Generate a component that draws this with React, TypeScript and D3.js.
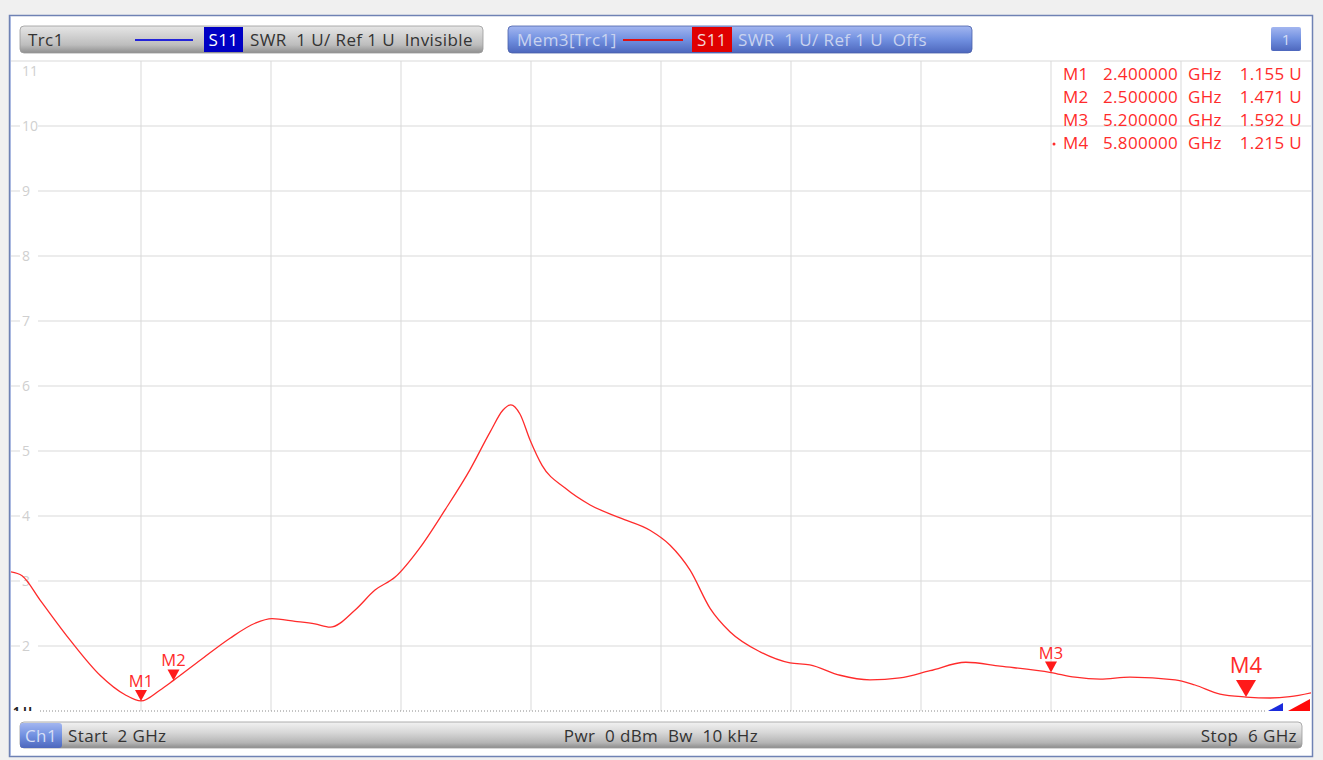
import React from "react";
import * as d3 from "d3";

const freqGHz = [2.0, 2.034, 2.089, 2.182, 2.274, 2.351, 2.4, 2.458, 2.5, 2.582, 2.674, 2.751, 2.803, 2.874, 2.935, 2.982, 3.058, 3.12, 3.182, 3.258, 3.335, 3.412, 3.474, 3.514, 3.538, 3.566, 3.597, 3.634, 3.705, 3.782, 3.874, 3.966, 4.028, 4.089, 4.151, 4.212, 4.305, 4.397, 4.458, 4.551, 4.643, 4.735, 4.828, 4.938, 5.043, 5.2, 5.274, 5.351, 5.443, 5.582, 5.643, 5.72, 5.8, 5.874, 5.935, 6.0];
const swrValues = [3.14, 3.08, 2.71, 2.09, 1.55, 1.25, 1.155, 1.32, 1.471, 1.78, 2.12, 2.35, 2.42, 2.38, 2.34, 2.29, 2.55, 2.86, 3.06, 3.51, 4.09, 4.71, 5.29, 5.63, 5.71, 5.57, 5.17, 4.78, 4.43, 4.17, 3.97, 3.78, 3.55, 3.17, 2.58, 2.22, 1.91, 1.74, 1.71, 1.55, 1.48, 1.51, 1.62, 1.75, 1.69, 1.592, 1.52, 1.49, 1.52, 1.48, 1.40, 1.26, 1.215, 1.20, 1.22, 1.28];

const markerNames = ["M1", "M2", "M3", "M4"];
const markerFreqs = [2.4, 2.5, 5.2, 5.8];
const markerValues = [1.155, 1.471, 1.592, 1.215];
const markerFreqLabels = ["2.400000", "2.500000", "5.200000", "5.800000"];
const markerValueLabels = ["1.155 U", "1.471 U", "1.592 U", "1.215 U"];

const yTicks = [1, 2, 3, 4, 5, 6, 7, 8, 9, 10, 11];
const xTicks = [2, 2.4, 2.8, 3.2, 3.6, 4.0, 4.4, 4.8, 5.2, 5.6, 6.0];

const FONT = "'Open Sans', 'Noto Sans', sans-serif";
const RED = "#ff2b2b";

export default function App() {
  const x = d3.scaleLinear().domain([2, 6]).range([11, 1311]);
  const y = d3.scaleLinear().domain([1, 11]).range([711, 61]);
  const pts: [number, number][] = freqGHz.map((f, i) => [f, swrValues[i]]);
  const line = d3
    .line<[number, number]>()
    .x((d) => x(d[0]))
    .y((d) => y(d[1]))
    .curve(d3.curveMonotoneX);

  const hdr = { fontSize: 17, letterSpacing: 0.4 };

  return (
    <svg
      width={1323}
      height={760}
      style={{ position: "absolute", left: 0, top: 0, background: "#f0f0f0" }}
      fontFamily={FONT}
    >
      <defs>
        <linearGradient id="gray" x1="0" y1="0" x2="0" y2="1">
          <stop offset="0" stopColor="#e6e6e6" />
          <stop offset="0.35" stopColor="#d2d2d2" />
          <stop offset="0.7" stopColor="#bdbdbd" />
          <stop offset="1" stopColor="#8e8e8e" />
        </linearGradient>
        <linearGradient id="blue" x1="0" y1="0" x2="0" y2="1">
          <stop offset="0" stopColor="#a3b6f0" />
          <stop offset="0.5" stopColor="#7190e0" />
          <stop offset="1" stopColor="#4d67bd" />
        </linearGradient>
        <linearGradient id="bottomGray" x1="0" y1="0" x2="0" y2="1">
          <stop offset="0" stopColor="#f2f2f2" />
          <stop offset="0.4" stopColor="#d8d8d8" />
          <stop offset="0.8" stopColor="#b4b4b4" />
          <stop offset="1" stopColor="#8c8c8c" />
        </linearGradient>
        <clipPath id="plotClip">
          <rect x={11} y={61} width={1300} height={651} />
        </clipPath>
        <clipPath id="oneU">
          <rect x={11} y={690} width={40} height={21} />
        </clipPath>
      </defs>

      {/* frame */}
      <rect x={9.5} y={15.5} width={1303} height={741} fill="#ffffff" stroke="#6f82b4" strokeWidth={1.5} />
      <line x1={10.5} y1={16} x2={10.5} y2={756} stroke="#a9b8e0" strokeWidth={1} />

      {/* grid */}
      {yTicks.slice(1).map((t) => (
        <line key={"h" + t} x1={11} x2={1311} y1={y(t)} y2={y(t)} stroke="#d9d9d9" strokeWidth={1} />
      ))}
      {xTicks.slice(1, -1).map((t) => (
        <line key={"v" + t} x1={x(t)} x2={x(t)} y1={61} y2={711} stroke="#d9d9d9" strokeWidth={1} />
      ))}
      <line x1={40} x2={1266} y1={711} y2={711} stroke="#8a8a8a" strokeWidth={1} strokeDasharray="1,2" />

      {/* y labels */}
      {yTicks.slice(1, -1).map((t) => (
        <g key={"yl" + t}>
          <rect x={20} y={y(t) - 8} width={18} height={16} fill="#ffffff" />
          <text x={22} y={y(t) + 5} fontSize={14} fill="#cfcfcf">
            {t}
          </text>
        </g>
      ))}
      <text x={22} y={y(11) + 15} fontSize={14} fill="#cfcfcf">
        11
      </text>
      <g clipPath="url(#oneU)">
        <text x={13} y={716} fontSize={12} fill="#222" fontWeight="bold">
          1 U
        </text>
      </g>

      {/* trace */}
      <g clipPath="url(#plotClip)">
        <path d={line(pts) || ""} fill="none" stroke={RED} strokeWidth={1.3} />
      </g>

      {/* markers */}
      {markerNames.map((m, i) => {
        const cx = x(markerFreqs[i]);
        const cy = y(markerValues[i]);
        const big = i === 3;
        const w = big ? 10 : 6;
        const h = big ? 17 : 11;
        return (
          <g key={m}>
            <path d={`M${cx - w},${cy - h} L${cx + w},${cy - h} L${cx},${cy} Z`} fill="#ff1a1a" />
            <text
              x={cx}
              y={cy - h - (big ? 7 : 3)}
              textAnchor="middle"
              fontSize={big ? 22 : 16.5}
              fill={RED}
            >
              {m}
            </text>
          </g>
        );
      })}

      {/* reference indicators */}
      <path d="M1268,711 L1283,711 L1283,703 Z" fill="#1a2bdc" />
      <path d="M1288,711 L1310,711 L1310,699 Z" fill="#ff0a0a" />

      {/* readout */}
      {markerNames.map((m, i) => {
        const by = 80 + i * 23;
        return (
          <g key={"r" + m} fontSize={17} letterSpacing={0.3} fill={RED}>
            {i === 3 && <circle cx={1054} cy={by - 5} r={1.5} fill={RED} />}
            <text x={1063} y={by}>{m}</text>
            <text x={1178} y={by} textAnchor="end">{markerFreqLabels[i]}</text>
            <text x={1188} y={by}>GHz</text>
            <text x={1302} y={by} textAnchor="end">{markerValueLabels[i]}</text>
          </g>
        );
      })}

      {/* header */}
      <rect x={20} y={26} width={463} height={27} rx={4} fill="url(#gray)" stroke="#9a9a9a" strokeWidth={0.8} />
      <text x={28} y={46} {...hdr} fill="#333">Trc1</text>
      <line x1={135} x2={193} y1={40} y2={40} stroke="#2323d8" strokeWidth={2} />
      <rect x={204} y={27} width={39} height={25} fill="#0000c4" />
      <text x={223.5} y={46} {...hdr} fill="#ffffff" textAnchor="middle">S11</text>
      <text x={250} y={46} {...hdr} fill="#333" xmlSpace="preserve">SWR  1 U/ Ref 1 U  Invisible</text>

      <rect x={508} y={26} width={464} height={27} rx={4} fill="url(#blue)" stroke="#4a5fa8" strokeWidth={0.8} />
      <text x={517} y={46} {...hdr} fill="#c9d3ef">Mem3[Trc1]</text>
      <line x1={623} x2={683} y1={40} y2={40} stroke="#e01010" strokeWidth={2} />
      <rect x={692} y={27} width={40} height={25} fill="#e00000" />
      <text x={712} y={46} {...hdr} fill="#f3d6d6" textAnchor="middle">S11</text>
      <text x={738} y={46} {...hdr} fill="#c9d3ef" xmlSpace="preserve">SWR  1 U/ Ref 1 U  Offs</text>

      <rect x={1271} y={27} width={30} height={24} rx={2} fill="url(#blue)" />
      <text x={1286} y={45} fontSize={15} fill="#d6def5" textAnchor="middle">1</text>

      {/* bottom bar */}
      <rect x={20} y={722} width={1282} height={26} rx={4} fill="url(#bottomGray)" stroke="#9a9a9a" strokeWidth={0.8} />
      <rect x={20} y={723} width={42} height={25} rx={3} fill="url(#blue)" />
      <text x={41} y={742} {...hdr} fill="#d6def5" textAnchor="middle">Ch1</text>
      <text x={68} y={742} {...hdr} fill="#333" xmlSpace="preserve">Start  2 GHz</text>
      <text x={661} y={742} {...hdr} fill="#333" textAnchor="middle" xmlSpace="preserve">Pwr  0 dBm  Bw  10 kHz</text>
      <text x={1297} y={742} {...hdr} fill="#333" textAnchor="end" xmlSpace="preserve">Stop  6 GHz</text>
    </svg>
  );
}
